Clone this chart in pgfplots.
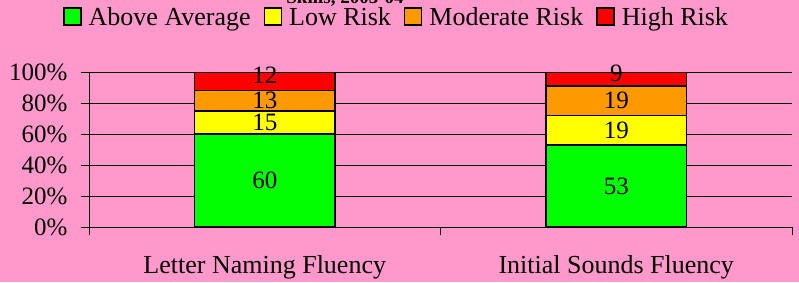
\documentclass[border=0pt]{standalone}
\usepackage{pgfplots}
\pgfplotsset{compat=1.18}
\usepackage{fontspec}
\setmainfont{Liberation Serif}
\definecolor{bgpink}{HTML}{FF99CC}
\definecolor{cgreen}{HTML}{00FF00}
\definecolor{cyellow}{HTML}{FFFF00}
\definecolor{corange}{HTML}{FF9900}
\definecolor{cred}{HTML}{FF0000}
\newcommand{\bigfont}{\fontsize{25}{30}\selectfont}
\newcommand{\labfont}{\fontsize{26}{31}\selectfont}
\pgfplotsset{
  boxlegend/.style={legend image code/.code={\draw[##1,/tikz/.cd,draw=black,line width=1.5pt] (0pt,-8pt) rectangle (17pt,9pt);}},
}
\begin{document}
\begin{tikzpicture}[x=1pt,y=1pt]
\useasboundingbox (0,0) rectangle (799,282);
\clip (0,0) rectangle (799,282);
\fill[bgpink] (0,0) rectangle (799,282);
\node[anchor=base, font=\fontsize{19}{23}\selectfont\bfseries, inner sep=0pt] at (345,279) {Skills, 2003-04};
\begin{axis}[
  at={(89pt,55pt)}, anchor=south west,
  scale only axis, width=703pt, height=155pt,
  ybar stacked, bar width=0.4,
  xmin=-0.5, xmax=1.5, ymin=0, ymax=100,
  axis x line*=bottom, axis y line*=left,
  axis line style={-, black, line width=0.8pt},
  xtick={-0.5,0.5,1.5}, xticklabels={},
  extra x ticks={0,1},
  extra x tick labels={Letter Naming Fluency, Initial Sounds Fluency},
  extra x tick style={major tick length=0pt, grid=none},
  xticklabel style={font=\labfont, anchor=base, yshift=-46pt},
  ytick={0,20,40,60,80,100},
  yticklabel={\pgfmathprintnumber{\tick}\%},
  yticklabel style={font=\bigfont, anchor=east, xshift=-10pt},
  /pgf/number format/assume math mode=true,
  tick align=outside, major tick length=8pt,
  tick style={black, line width=0.8pt},
  ymajorgrids, grid style={black, line width=0.8pt},
  point meta=rawy,
  nodes near coords,
  every node near coord/.append style={font=\bigfont, anchor=center, black},
  legend columns=4,
  legend style={draw=none, fill=none, font=\labfont, inner sep=0pt,
     at={(-0.037,1.355)}, anchor=west,
     nodes={inner sep=0pt},
     /tikz/every odd column/.append style={column sep=7pt},
     /tikz/every even column/.append style={column sep=13pt}},
]
\addplot[fill=cgreen, draw=black, line width=1.5pt, boxlegend] coordinates {(0,60) (1,53)};
\addplot[fill=cyellow, draw=black, line width=1.5pt, boxlegend] coordinates {(0,15) (1,19)};
\addplot[fill=corange, draw=black, line width=1.5pt, boxlegend] coordinates {(0,13) (1,19)};
\addplot[fill=cred, draw=black, line width=1.5pt, boxlegend,
  every node near coord/.append style={yshift=6pt}] coordinates {(0,12) (1,9)};
\legend{Above Average, Low Risk, Moderate Risk, High Risk}
\end{axis}
\end{tikzpicture}
\end{document}
